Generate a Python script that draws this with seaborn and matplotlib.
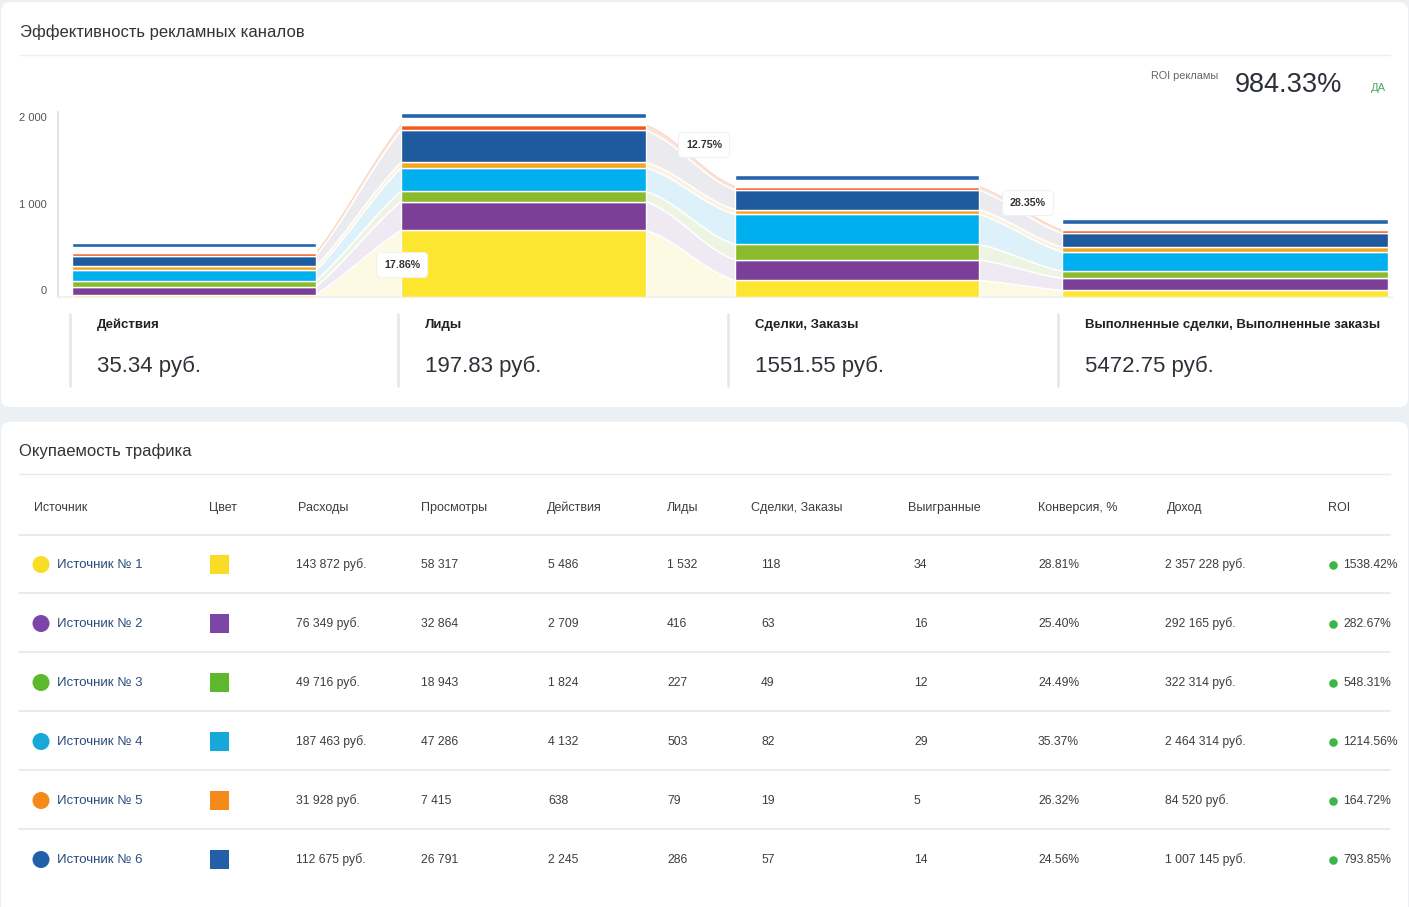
import numpy as np
import pandas as pd
import matplotlib
matplotlib.use("Agg")
import matplotlib.pyplot as plt
import seaborn as sns
from matplotlib.patches import FancyBboxPatch
from matplotlib.transforms import ScaledTranslation

# ---------------- data ----------------
stages = ["Действия", "Лиды", "Сделки, Заказы", "Выполненные сделки, Выполненные заказы"]
stage_cost = [35.34, 197.83, 1551.55, 5472.75]
stage_conv = [17.86, 12.75, 28.35]
roi_total = 984.33

# stacked funnel segments (bottom -> top)
seg_yellow = [28, 769, 191, 77]
seg_purple = [92, 335, 239, 139]
seg_green = [67, 116, 177, 81]
seg_cyan = [124, 272, 349, 225]
seg_orange = [46, 64, 55, 52]
seg_darkblue = [119, 370, 225, 162]
seg_orangered = [29, 58, 40, 35]
seg_blank = [69, 89, 81, 77]
seg_blue = [46, 55, 52, 58]

sources = ["Источник № 1", "Источник № 2", "Источник № 3",
           "Источник № 4", "Источник № 5", "Источник № 6"]
source_colors = ["#f9dc24", "#7c45a8", "#5db82e", "#15a8d9", "#f5891a", "#2160a8"]
expenses = [143872, 76349, 49716, 187463, 31928, 112675]
views = [58317, 32864, 18943, 47286, 7415, 26791]
actions = [5486, 2709, 1824, 4132, 638, 2245]
leads = [1532, 416, 227, 503, 79, 286]
deals = [118, 63, 49, 82, 19, 57]
won = [34, 16, 12, 29, 5, 14]
conversion = [28.81, 25.40, 24.49, 35.37, 26.32, 24.56]
revenue = [2357228, 292165, 322314, 2464314, 84520, 1007145]
roi = [1538.42, 282.67, 548.31, 1214.56, 164.72, 793.85]

headers = ["Источник", "Цвет", "Расходы", "Просмотры", "Действия", "Лиды",
           "Сделки, Заказы", "Выигранные", "Конверсия, %", "Доход", "ROI"]

# ---------------- style ----------------
sns.set_theme(style="white")
plt.rcParams["font.family"] = ["Liberation Sans", "DejaVu Sans"]

W, H = 1409, 907
fig = plt.figure(figsize=(W / 100, H / 100), dpi=100)
fig.patch.set_facecolor("#edf0f3")

bg = fig.add_axes([0, 0, 1, 1])
bg.set_xlim(0, W)
bg.set_ylim(H, 0)
bg.axis("off")
bg.set_zorder(0)

def card(x0, y0, x1, y1):
    bg.add_patch(FancyBboxPatch((x0, y0), x1 - x0, y1 - y0,
                                boxstyle="round,pad=0,rounding_size=9",
                                fc="white", ec="none", zorder=0))

card(1, 2, 1408, 407)
card(1, 422, 1408, 930)

def fmt(v):
    return f"{v:,}".replace(",", " ")

txt = "#2e3238"
# header of card 1
bg.text(20, 37, "Эффективность рекламных каналов", fontsize=12, color="#333",
        va="baseline", ha="left")
bg.plot([20, 1390], [55, 55], color="#eceef1", lw=1)
bg.text(1151, 79, "ROI рекламы", fontsize=7.8, color="#666", va="baseline")
bg.text(1235, 92, f"{roi_total:.2f}%", fontsize=19.5, color="#2a2f38", va="baseline")
bg.text(1371, 91, "ДА", fontsize=8, color="#4aa564", va="baseline")

# ---------------- funnel chart ----------------
ax_left, ax_right, ax_bot, ax_top = 58, 1392, 297, 105
px_per_unit = 86.5 / 1000
ax = fig.add_axes([ax_left / W, (H - ax_bot) / H, (ax_right - ax_left) / W,
                   (ax_bot - ax_top) / H])
ax.set_zorder(2)
ax.patch.set_alpha(0)
ax.set_xlim(ax_left, ax_right)
ax.set_ylim(0, (ax_bot - ax_top) / px_per_unit)

segments = [seg_yellow, seg_purple, seg_green, seg_cyan, seg_orange,
            seg_darkblue, seg_orangered, seg_blank, seg_blue]
seg_colors = ["#fde630", "#7b3f98", "#8bbb2c", "#00b0ee", "#f6a51f",
              "#1f599e", "#f4581c", "#ffffff", "#2563ad"]
ribbon_colors = ["#fdfae4", "#efe9f3", "#edf4e2", "#ddf1fa", "#fdf0dc",
                 "#ebebef", "#fce3d8", None, None]
ribbon_curve = [0.15, 0.45, 0.3]

bar_left = [72, 401, 735, 1062]
bar_width = [244, 245, 244, 326]

data = np.array(segments, dtype=float)
cum_top = np.cumsum(data, axis=0)
cum_bot = cum_top - data

# ribbons
for i in range(len(stages) - 1):
    x0 = bar_left[i] + bar_width[i]
    x1 = bar_left[i + 1]
    xs = np.linspace(x0, x1, 60)
    t = (xs - x0) / (x1 - x0)
    c = ribbon_curve[i]
    s = (1 - c) * t + c * (0.5 - 0.5 * np.cos(np.pi * t))
    for k in range(len(segments)):
        if ribbon_colors[k] is None:
            continue
        lo = cum_bot[k, i] + (cum_bot[k, i + 1] - cum_bot[k, i]) * s
        hi = cum_top[k, i] + (cum_top[k, i + 1] - cum_top[k, i]) * s
        ax.fill_between(xs, lo, hi, color=ribbon_colors[k], lw=0, zorder=1)
        ax.plot(xs, hi, color="white", lw=1.2, zorder=1.5)
    hi = cum_top[6, i] + (cum_top[6, i + 1] - cum_top[6, i]) * s
    ax.plot(xs, hi, color="#fbd5c3", lw=1, zorder=1.6)

# stacked bars
for k in range(len(segments)):
    ax.bar(bar_left, data[k], width=bar_width, bottom=cum_bot[k], align="edge",
           color=seg_colors[k], edgecolor="white", linewidth=1.0, zorder=3)

ax.set_yticks([0, 1000, 2000])
ax.set_yticklabels(["0", "1 000", "2 000"], fontsize=8, color="#555")
ax.set_xticks([])
ax.tick_params(axis="y", length=0, pad=8)
for lab in ax.get_yticklabels():
    lab.set_transform(lab.get_transform() + ScaledTranslation(0, 7 / 100, fig.dpi_scale_trans))
for side in ["top", "right"]:
    ax.spines[side].set_visible(False)
ax.spines["left"].set_color("#dcdfe3")
ax.spines["left"].set_bounds(0, (ax_bot - 112) / px_per_unit)
ax.spines["bottom"].set_color("#eef0f2")

# conversion labels (overlay above chart)
lab_ax = fig.add_axes([0, 0, 1, 1])
lab_ax.set_xlim(0, W)
lab_ax.set_ylim(H, 0)
lab_ax.axis("off")
lab_ax.set_zorder(3)
lab_ax.patch.set_alpha(0)
conv_pos = [(384, 265), (686, 145), (1010, 203)]
for (x, y), cval in zip(conv_pos, stage_conv):
    lab_ax.text(x, y, f"{cval:.2f}%", fontsize=7.7, fontweight="bold", color="#333",
                va="center", ha="left",
                bbox=dict(boxstyle="round,pad=0.7,rounding_size=0.4", fc="white",
                          ec="#f1f1f1", lw=0.8))

# stage stats
stat_x = [70, 398, 728, 1058]
for x, name, cost in zip(stat_x, stages, stage_cost):
    bg.plot([x, x], [314, 386], color="#e4e6e9", lw=1.8)
    bg.text(x + 27, 328, name, fontsize=9.5, fontweight="bold", color="#222",
            va="baseline")
    bg.text(x + 27, 372, f"{cost:.2f} руб.", fontsize=16, color=txt, va="baseline")

# ---------------- table ----------------
bg.text(19, 456, "Окупаемость трафика", fontsize=12, color="#333", va="baseline")
bg.plot([19, 1390], [474, 474], color="#e8eaed", lw=1)

head_x = [34, 209, 298, 421, 547, 667, 751, 908, 1038, 1167, 1328]
for x, h in zip(head_x, headers):
    bg.text(x, 511, h, fontsize=9, color="#3a3d42", va="baseline")

row_y = [563, 622, 681, 740, 799, 858]
for y in [535, 593, 652, 711, 770, 829]:
    bg.plot([19, 1390], [y, y], color="#e6e8eb", lw=1.2)

tbl = pd.DataFrame({"source": sources, "y": row_y, "color": source_colors})
pal = dict(zip(sources, source_colors))
sns.scatterplot(data=tbl.assign(x=41, y=tbl["y"] + 1.5), x="x", y="y", hue="source",
                palette=pal, s=150, marker="o", linewidth=0, legend=False, ax=bg, zorder=4)
sns.scatterplot(data=tbl.assign(x=219.5, y=tbl["y"] + 1.5), x="x", y="y", hue="source",
                palette=pal, s=190, marker="s", linewidth=0, legend=False, ax=bg, zorder=4)
sns.scatterplot(data=tbl.assign(x=1333, y=tbl["y"] + 1.5), x="x", y="y", color="#3cb54a",
                s=38, marker="o", linewidth=0, legend=False, ax=bg, zorder=4)
bg.set_xlabel("")
bg.set_ylabel("")
bg.set_xlim(0, W)
bg.set_ylim(H, 0)

col_x = [296, 421, 548, 667, 761, 914, 1038, 1165, 1343]
for i, y in enumerate(row_y):
    bg.text(57, y + 5, sources[i], fontsize=9.5, color="#2b4d7c", va="baseline")
    vals = [f"{fmt(expenses[i])} руб.", fmt(views[i]), fmt(actions[i]), fmt(leads[i]),
            fmt(deals[i]), fmt(won[i]), f"{conversion[i]:.2f}%",
            f"{fmt(revenue[i])} руб.", f"{roi[i]:.2f}%"]
    for x, v in zip(col_x, vals):
        bg.text(x, y + 5, v, fontsize=8.7, color="#3a3d42", va="baseline")

fig.savefig("out.png", dpi=100, facecolor=fig.get_facecolor())
